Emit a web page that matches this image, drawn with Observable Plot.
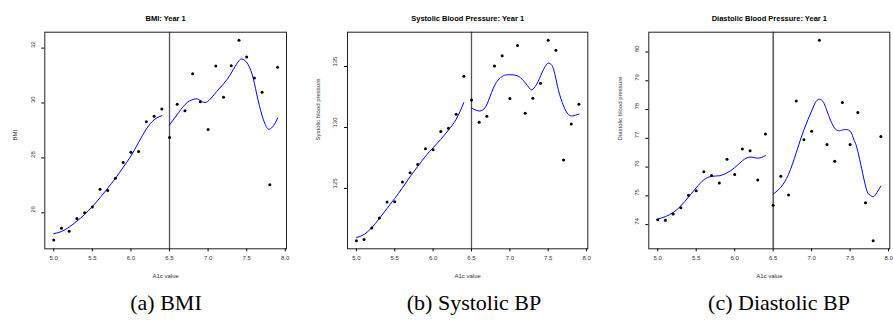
<!DOCTYPE html>
<html>
<head>
<meta charset="utf-8">
<script src="https://cdn.jsdelivr.net/npm/d3@7"></script>
<script src="https://cdn.jsdelivr.net/npm/@observablehq/plot@0.6"></script>
<style>
  html, body { margin: 0; padding: 0; background: #fff; }
  #root { position: relative; width: 893px; height: 328px; overflow: hidden; background: #fff; }
  .panel { position: absolute; top: 0; }
  .caption { position: absolute; top: 291px; font-family: "Liberation Serif", "DejaVu Serif", serif; font-size: 22px; line-height: 24px; color: #000; white-space: nowrap; transform: translateX(-50%); }
</style>
</head>
<body>
<div id="root"></div>
<script>
// ---- data ----
const a1c = [5.0, 5.1, 5.2, 5.3, 5.4, 5.5, 5.6, 5.7, 5.8, 5.9, 6.0, 6.1, 6.2, 6.3, 6.4,
             6.5, 6.6, 6.7, 6.8, 6.9, 7.0, 7.1, 7.2, 7.3, 7.4, 7.5, 7.6, 7.7, 7.8, 7.9];
const bmiPts = [25.01, 25.44, 25.33, 25.79, 26.0, 26.21, 26.86, 26.81, 27.26, 27.83, 28.21, 28.23, 29.32, 29.52, 29.78,
                28.74, 29.96, 29.72, 31.07, 30.05, 29.04, 31.35, 30.21, 31.36, 32.29, 31.68, 30.91, 30.39, 27.02, 31.30];
const sbpPts = [120.7, 120.81, 121.74, 122.56, 123.88, 123.9, 125.52, 126.29, 126.97, 128.26, 128.18, 129.66, 129.93, 131.08, 134.21,
                132.26, 130.42, 130.92, 135.05, 135.88, 132.37, 136.73, 131.16, 132.4, 133.63, 137.16, 136.34, 127.33, 130.29, 131.9];
const dbpPts = [74.17, 74.15, 74.37, 74.59, 75.02, 75.18, 75.84, 75.71, 75.45, 76.27, 75.74, 76.63, 76.57, 75.55, 77.15,
                74.67, 75.68, 75.03, 78.3, 76.95, 77.25, 80.41, 76.79, 76.2, 78.25, 76.79, 77.9, 74.76, 73.44, 77.06];

// smooth fits, left of cutoff
const fitLeftX = [5.0, 5.1, 5.2, 5.3, 5.4, 5.5, 5.6, 5.7, 5.8, 5.9, 6.0, 6.1, 6.2, 6.3, 6.4];
const bmiFitLeft = [25.24, 25.32, 25.48, 25.7, 25.94, 26.23, 26.55, 26.9, 27.26, 27.66, 28.07, 28.57, 29.05, 29.39, 29.54];
const sbpFitLeft = [120.95, 121.22, 121.77, 122.53, 123.36, 124.18, 125.05, 125.96, 126.81, 127.63, 128.34, 129.03, 129.79, 130.67, 132.04];
const dbpFitLeft = [74.19, 74.28, 74.42, 74.65, 74.96, 75.28, 75.56, 75.68, 75.70, 75.80, 75.98, 76.22, 76.35, 76.31, 76.40];

// smooth fits, right of cutoff
const bmiFitRightX = [6.5, 6.62, 6.73, 6.84, 6.9, 6.96, 7.03, 7.14, 7.25, 7.33, 7.4, 7.44, 7.5, 7.57, 7.63, 7.7, 7.76, 7.8, 7.85, 7.9];
const bmiFitRight  = [29.2, 29.66, 30.02, 30.15, 30.09, 30.02, 30.15, 30.51, 30.87, 31.24, 31.54, 31.6, 31.48, 31.05, 30.33, 29.54, 29.11, 29.05, 29.18, 29.45];
const sbpFitRightX = [6.5, 6.59, 6.66, 6.72, 6.81, 6.9, 6.96, 7.07, 7.16, 7.25, 7.29, 7.35, 7.42, 7.48, 7.52, 7.57, 7.63, 7.7, 7.76, 7.82, 7.9];
const sbpFitRight  = [131.6, 131.36, 131.5, 132.18, 133.55, 134.18, 134.32, 134.29, 133.96, 133.27, 133.1, 133.55, 134.51, 135.19, 135.25, 134.78, 133.14, 131.77, 131.08, 130.95, 131.1];
const dbpFitRightX = [6.5, 6.6, 6.7, 6.8, 6.9, 7.0, 7.05, 7.1, 7.15, 7.2, 7.3, 7.4, 7.5, 7.55, 7.6, 7.7, 7.75, 7.8, 7.85, 7.9];
const dbpFitRight  = [75.06, 75.3, 75.75, 76.5, 77.3, 77.95, 78.25, 78.36, 78.27, 77.95, 77.35, 77.29, 77.25, 76.95, 76.55, 75.35, 75.05, 74.97, 75.12, 75.34];

const xTicks = [5.0, 5.5, 6.0, 6.5, 7.0, 7.5, 8.0];
const bmiTicks = [26, 28, 30, 32];
const sbpTicks = [125, 130, 135];
const dbpTicks = [74, 75, 76, 77, 78, 79, 80];

const titles = ["BMI: Year 1", "Systolic Blood Pressure: Year 1", "Diastolic Blood Pressure: Year 1"];
const yLabels = ["BMI", "Systolic blood pressure", "Diastolic blood pressure"];
const captions = ["(a) BMI", "(b) Systolic BP", "(c) Diastolic BP"];
const cutoff = 6.5;

// ---- panels ----
const panels = [
  {left: 0, width: 298, ml: 44.3, mr: 12, yDomain: [24.69, 32.58], yTicks: bmiTicks, pts: bmiPts,
   fl: bmiFitLeft, frx: bmiFitRightX, fr: bmiFitRight, vColor: "#555", vWidth: 1.3, capX: 166, ylx: 15},
  {left: 298, width: 298, ml: 49, mr: 8.7, yDomain: [120.04, 137.82], yTicks: sbpTicks, pts: sbpPts,
   fl: sbpFitLeft, frx: sbpFitRightX, fr: sbpFitRight, vColor: "#555", vWidth: 1.3, capX: 474, ylx: 20},
  {left: 596, width: 297, ml: 52.3, mr: 3.7, yDomain: [73.16, 80.69], yTicks: dbpTicks, pts: dbpPts,
   fl: dbpFitLeft, frx: dbpFitRightX, fr: dbpFitRight, vColor: "#000", vWidth: 1, capX: 779, ylx: 24}
];

const root = document.getElementById("root");
const H = 285, MT = 31.7, MB = 36.7;

panels.forEach((p, i) => {
  const pts = a1c.map((x, j) => ({x, y: p.pts[j]}));
  const left = fitLeftX.map((x, j) => ({x, y: p.fl[j]}));
  const right = p.frx.map((x, j) => ({x, y: p.fr[j]}));
  const chart = Plot.plot({
    width: p.width,
    height: H,
    marginLeft: p.ml,
    marginRight: p.mr,
    marginTop: MT,
    marginBottom: MB,
    style: {fontFamily: "'Liberation Sans', Arial, sans-serif", fontSize: "6px", background: "#fff", overflow: "visible"},
    x: {domain: [4.884, 8.016]},
    y: {domain: p.yDomain},
    marks: [
      Plot.axisX({ticks: xTicks, tickSize: 3, tickFormat: () => "", label: null}),
      Plot.axisY({ticks: p.yTicks, tickSize: 3, tickFormat: () => "", label: null}),
      Plot.text(xTicks, {x: d => d, text: d => d.toFixed(1), frameAnchor: "bottom", dy: 11, fontSize: 6, fill: "#333"}),
      Plot.text(p.yTicks, {y: d => d, text: d => String(d), frameAnchor: "left", dx: -12, rotate: -90, fontSize: 6, fill: "#333"}),
      Plot.text([titles[i]], {frameAnchor: "top", dy: -16.7, fontSize: 7.5, fontWeight: "bold", fill: "#000"}),
      Plot.text(["A1c value"], {frameAnchor: "bottom", dy: 28.7, fontSize: 6, fill: "#333"}),
      Plot.text([yLabels[i]], {frameAnchor: "left", dx: -(p.ml - p.ylx), rotate: -90, fontSize: 6, fill: "#333"}),
      Plot.ruleX([cutoff], {stroke: p.vColor, strokeWidth: p.vWidth}),
      Plot.line(left, {x: "x", y: "y", stroke: "#0000ff", strokeWidth: 1, curve: "natural"}),
      Plot.line(right, {x: "x", y: "y", stroke: "#0000ff", strokeWidth: 1, curve: "natural"}),
      Plot.dot(pts, {x: "x", y: "y", r: 1.5, fill: "#000", stroke: "none"}),
      Plot.frame({stroke: "#222", strokeWidth: 1})
    ]
  });
  const div = document.createElement("div");
  div.className = "panel";
  div.style.left = p.left + "px";
  div.appendChild(chart);
  root.appendChild(div);

  const cap = document.createElement("div");
  cap.className = "caption";
  cap.style.left = p.capX + "px";
  cap.textContent = captions[i];
  root.appendChild(cap);
});
</script>
</body>
</html>
